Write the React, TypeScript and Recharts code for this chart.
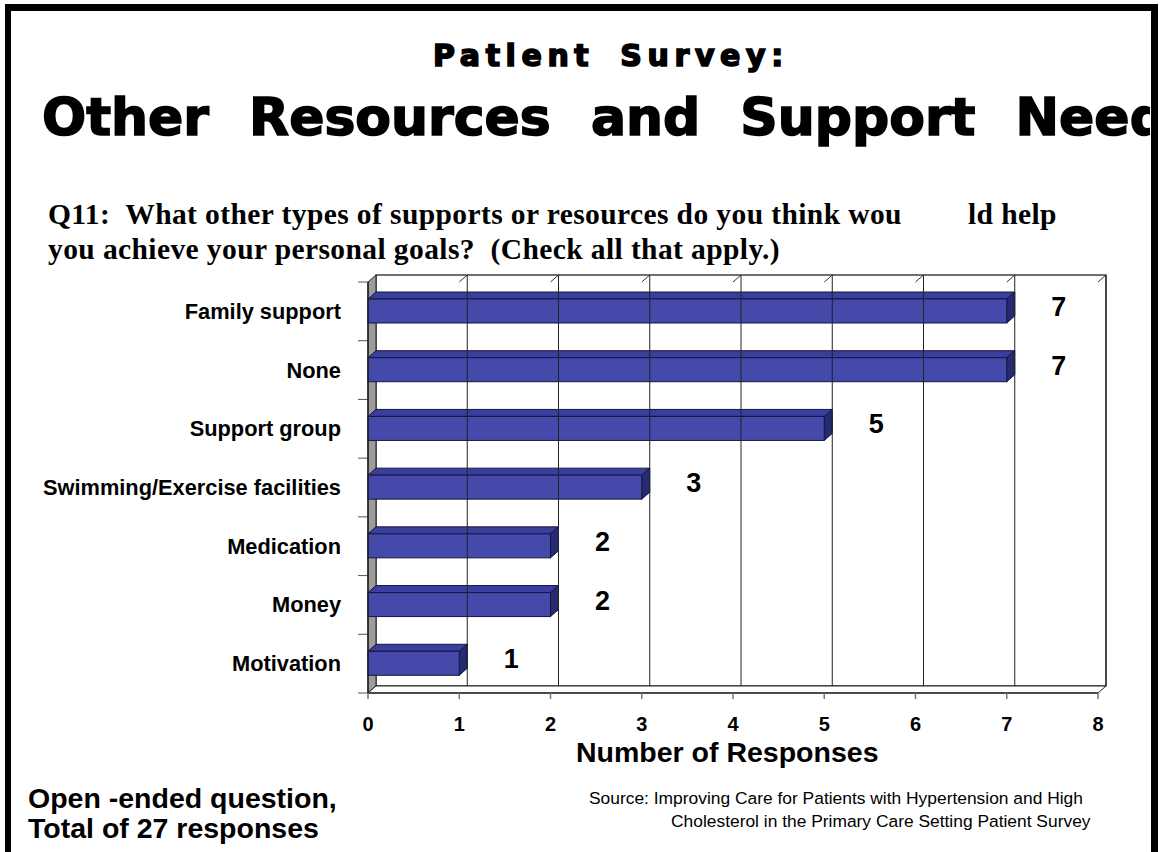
import React from "react";
import {
  BarChart,
  Bar,
  XAxis,
  YAxis,
  ReferenceArea,
  ReferenceLine,
  LabelList,
} from "recharts";

const categories = [
  "Family support",
  "None",
  "Support group",
  "Swimming/Exercise facilities",
  "Medication",
  "Money",
  "Motivation",
];
const responses = [7, 7, 5, 3, 2, 2, 1];
const xTicks = [0, 1, 2, 3, 4, 5, 6, 7, 8];
const gridTicks = [1, 2, 3, 4, 5, 6, 7, 8];

const data = categories.map((name, i) => ({ name, value: responses[i] }));

const SANS = '"Liberation Sans", Arial, sans-serif';
const SERIF = '"Liberation Serif", "Times New Roman", serif';
const HEAVY = '"DejaVu Sans", sans-serif';

// 3d depth of the chart box and bars
const DX = 8;
const DY = 7;

function Walls(props: any) {
  const { x, y, width, height } = props;
  const band = height / categories.length;
  const marks = categories.map((_, i) => y + i * band).concat(y + height);
  return (
    <g>
      <rect x={x + DX} y={y - DY} width={width} height={height} fill="#fff" stroke="#111" strokeWidth={1.2} />
      <polygon
        points={`${x},${y} ${x + DX},${y - DY} ${x + DX},${y + height - DY} ${x},${y + height}`}
        fill="#9c9c9c"
        stroke="#222"
      />
      <polygon
        points={`${x},${y + height} ${x + DX},${y + height - DY} ${x + width + DX},${y + height - DY} ${x + width},${y + height}`}
        fill="#fff"
        stroke="#222"
      />
      {marks.map((m, i) => (
        <line key={i} x1={x - 10} x2={x} y1={m} y2={m} stroke="#555" />
      ))}
    </g>
  );
}

function GridLine(props: any) {
  const { x1, y1, y2 } = props;
  return (
    <g>
      <line x1={x1 + DX} x2={x1 + DX} y1={y1 - DY} y2={y2 - DY} stroke="#222" />
      <line x1={x1 + DX} x2={x1} y1={y2 - DY} y2={y2} stroke="#333" />
    </g>
  );
}

function Bar3D(props: any) {
  const { x, y, width, height } = props;
  if (!width) return null;
  return (
    <g>
      <polygon
        points={`${x},${y} ${x + DX},${y - DY} ${x + width + DX},${y - DY} ${x + width},${y}`}
        fill="#3a3e9c"
        stroke="#15163f"
        strokeWidth={1}
      />
      <polygon
        points={`${x + width},${y} ${x + width + DX},${y - DY} ${x + width + DX},${y + height - DY} ${x + width},${y + height}`}
        fill="#262a70"
        stroke="#15163f"
        strokeWidth={1}
      />
      <rect x={x} y={y} width={width} height={height} fill="#4549a9" stroke="#15163f" strokeWidth={1} />
    </g>
  );
}

function ValueLabel(props: any) {
  const { x, y, width, height, value } = props;
  return (
    <text
      x={x + width + 52}
      y={y + height / 2 - 4}
      textAnchor="middle"
      dominantBaseline="central"
      fontFamily={SANS}
      fontWeight="bold"
      fontSize={27}
      fill="#000"
    >
      {value}
    </text>
  );
}

function CategoryTick(props: any) {
  const { x, y, payload } = props;
  return (
    <text
      x={x - 27}
      y={y}
      textAnchor="end"
      dominantBaseline="central"
      fontFamily={SANS}
      fontWeight="bold"
      fontSize={21.8}
      fill="#000"
    >
      {payload.value}
    </text>
  );
}

function NumberTick(props: any) {
  const { x, y, payload } = props;
  return (
    <text x={x} y={y + 32} textAnchor="middle" fontFamily={SANS} fontWeight="bold" fontSize={20} fill="#000">
      {payload.value}
    </text>
  );
}

export default function App() {
  const abs = (left: number, top: number, extra: React.CSSProperties = {}): React.CSSProperties => ({
    position: "absolute",
    left,
    top,
    lineHeight: 1,
    whiteSpace: "pre",
    margin: 0,
    color: "#000",
    ...extra,
  });

  return (
    <div style={{ position: "absolute", left: 0, top: 0, width: 1164, height: 852, background: "#fff", overflow: "hidden" }}>
      <div
        style={{
          position: "absolute",
          left: 5,
          top: 4,
          width: 1140,
          height: 860,
          borderTop: "7px solid #000",
          borderLeft: "6px solid #000",
          borderRight: "7px solid #000",
        }}
      />
      <div style={{ position: "absolute", left: 11, top: 11, width: 1139, height: 200, overflow: "hidden" }}>
        <div
          style={abs(422, 30, {
            fontFamily: HEAVY,
            fontWeight: "bold",
            fontSize: 30,
            letterSpacing: 5.6,
            wordSpacing: 10,
            WebkitTextStroke: "1.6px #000",
          })}
        >
          Patient Survey:
        </div>
        <div
          style={abs(31, 80, {
            fontFamily: HEAVY,
            fontWeight: "bold",
            fontSize: 52,
            wordSpacing: 22,
            WebkitTextStroke: "1.6px #000",
          })}
        >
          Other Resources and Support Needs
        </div>
      </div>

      <div style={abs(48, 200, { fontFamily: SERIF, fontWeight: "bold", fontSize: 29.5, letterSpacing: 0.4 })}>
        Q11:  What other types of supports or resources do you think wou
      </div>
      <div style={abs(968, 200, { fontFamily: SERIF, fontWeight: "bold", fontSize: 29.5, letterSpacing: 0.4 })}>ld help</div>
      <div style={abs(48, 235, { fontFamily: SERIF, fontWeight: "bold", fontSize: 29.5, letterSpacing: 0.4 })}>
        you achieve your personal goals?  (Check all that apply.)
      </div>

      <div style={{ position: "absolute", left: 0, top: 0 }}>
        <BarChart
          width={1164}
          height={852}
          data={data}
          layout="vertical"
          margin={{ top: 282, right: 66, bottom: 84, left: 0 }}
          barCategoryGap={0}
        >
          <XAxis
            type="number"
            domain={[0, 8]}
            ticks={xTicks}
            interval={0}
            height={75}
            tickSize={6}
            tickMargin={0}
            tickLine={{ stroke: "#777", strokeWidth: 1.5 }}
            axisLine={{ stroke: "#333", strokeWidth: 1.5 }}
            tick={<NumberTick />}
          />
          <YAxis
            type="category"
            dataKey="name"
            width={368}
            tickLine={false}
            tickSize={0}
            tickMargin={0}
            axisLine={{ stroke: "#222", strokeWidth: 1.5 }}
            tick={<CategoryTick />}
            interval={0}
          />
          <ReferenceArea shape={<Walls />} ifOverflow="visible" />
          {gridTicks.map((t) => (
            <ReferenceLine key={t} x={t} shape={<GridLine />} ifOverflow="visible" />
          ))}
          <Bar dataKey="value" barSize={24} shape={<Bar3D />} isAnimationActive={false}>
            <LabelList dataKey="value" content={<ValueLabel />} />
          </Bar>
        </BarChart>
      </div>

      <div style={abs(576, 738, { fontFamily: SANS, fontWeight: "bold", fontSize: 28.5 })}>Number of Responses</div>

      <div style={abs(28, 784, { fontFamily: SANS, fontWeight: "bold", fontSize: 28.5 })}>Open -ended question,</div>
      <div style={abs(28, 814, { fontFamily: SANS, fontWeight: "bold", fontSize: 28.5 })}>Total of 27 responses</div>

      <div style={abs(589, 790, { fontFamily: SANS, fontSize: 17.4 })}>
        Source: Improving Care for Patients with Hypertension and High
      </div>
      <div style={abs(671, 813, { fontFamily: SANS, fontSize: 17.4 })}>
        Cholesterol in the Primary Care Setting Patient Survey
      </div>
    </div>
  );
}
